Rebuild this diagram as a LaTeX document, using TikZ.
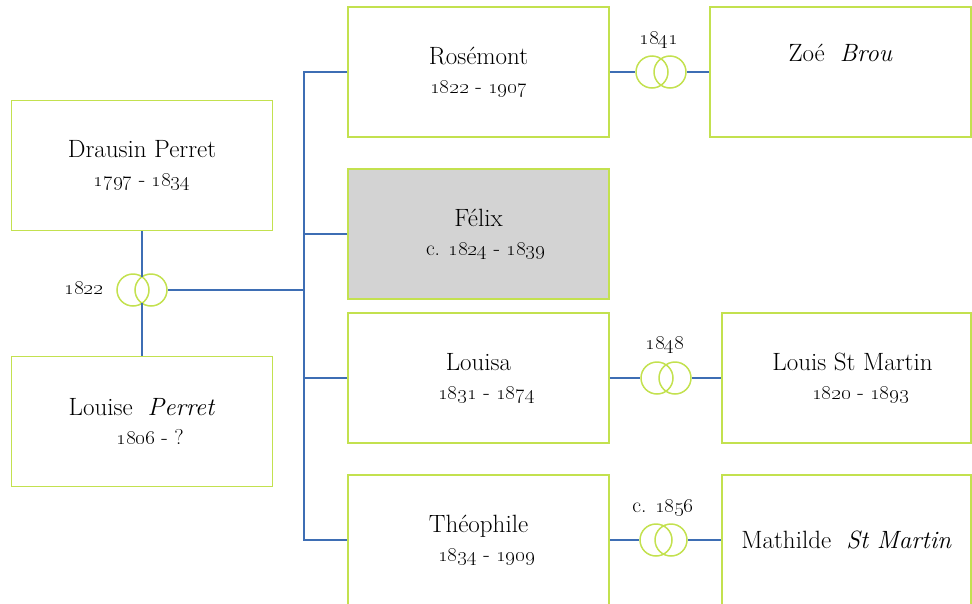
\documentclass[tikz,border=0pt]{standalone}
\usepackage{tikz}
\usetikzlibrary{calc}
\usetikzlibrary{positioning}
\definecolor{lime}{HTML}{C3E14F}
\definecolor{linkblue}{HTML}{3E6EB4}
\definecolor{felixgray}{HTML}{D3D3D3}
\newcommand{\yr}[1]{\oldstylenums{#1}}
\newcommand{\dates}[1]{{\fontsize{21.5}{29}\selectfont #1}}

\begin{document}
\begin{tikzpicture}[x=1pt,y=-1pt,
    person/.style={draw=lime, line width=1.5pt, minimum width=261pt, minimum height=130pt,
      inner sep=0pt, align=center, font=\fontsize{25}{29}\selectfont},
    ring/.style={draw=lime, circle, line width=1.5pt, minimum size=32pt, inner sep=0pt},
    link/.style={draw=linkblue, line width=1.3pt},
    year/.style={font=\fontsize{21.5}{24}\selectfont, inner sep=0pt}]
    \useasboundingbox (0,0) rectangle (972,603);
    % parents
    \node[person] (drausin) at (142,165.5) {Drausin Perret\\ \dates{\yr{1797} - \yr{1834}}};
    \node[person] (louise) at (142,421.5) {Louise \ \textit{Perret}\\ \dates{\hspace*{16pt}\yr{1806} - ?}};
    \node[ring] (dl1) at (133,290) {};
    \node[ring] (dl2) at (151,290) {};
    \node[year] (y1822) at (84,288) {\yr{1822}};
    \coordinate (dltop) at (142,276.8);
    \coordinate (dlbot) at (142,303.2);
    \draw[link] (drausin.south) -- (dltop);
    \draw[link] (dlbot) -- (louise.north);
    % children
    \node[person] (rosemont) at (478.5,72) {Rosémont\\ \dates{\yr{1822} - \yr{1907}}};
    \node[person, fill=felixgray] (felix) at (478.5,234) {Félix\\ \dates{\hspace*{14pt}c. \yr{1824} - \yr{1839}}};
    \node[person] (louisa) at (478.5,378) {Louisa\\ \dates{\hspace*{16pt}\yr{1831} - \yr{1874}}};
    \node[person] (theophile) at (478.5,540) {Théophile\\ \dates{\hspace*{16pt}\yr{1834} - \yr{1909}}};
    \coordinate (bus) at (304,290);
    \draw[link, line width=2.2pt] (dl2.east) -- (bus);
    \draw[link] (rosemont.west) -| (bus) |- (theophile.west);
    \draw[link] (felix.west) -- (felix.west -| bus);
    \draw[link] (louisa.west) -- (louisa.west -| bus);
    % spouses
    \node[person] (zoe) at (840.5,72) {Zoé \ \textit{Brou}\\ \strut};
    \node[person, minimum width=249pt] (louis) at (846.5,378) {\hspace*{12pt}Louis St Martin\\ \dates{\hspace*{28pt}\yr{1820} - \yr{1893}}};
    \node[person, minimum width=249pt] (mathilde) at (846.5,540) {Mathilde \ \textit{St Martin}};
    \node[ring] (rz1) at (652,72) {};
    \node[ring] (rz2) at (670,72) {};
    \node[year] (y1841) at (659,40) {\yr{1841}};
    \draw[link] (rosemont.east) -- (rz1.west);
    \draw[link] (rz2.east) -- (zoe.west);
    \node[ring] (rl1) at (657,378) {};
    \node[ring] (rl2) at (675,378) {};
    \node[year] (y1848) at (665,345) {\yr{1848}};
    \draw[link] (louisa.east) -- (rl1.west);
    \draw[link] (rl2.east) -- (louis.west);
    \node[ring] (rt1) at (656,540) {};
    \node[ring] (rt2) at (671,540) {};
    \node[year] (y1856) at (663,508) {c. \yr{1856}};
    \draw[link] (theophile.east) -- (rt1.west);
    \draw[link] (rt2.east) -- (mathilde.west);
\end{tikzpicture}
\end{document}
